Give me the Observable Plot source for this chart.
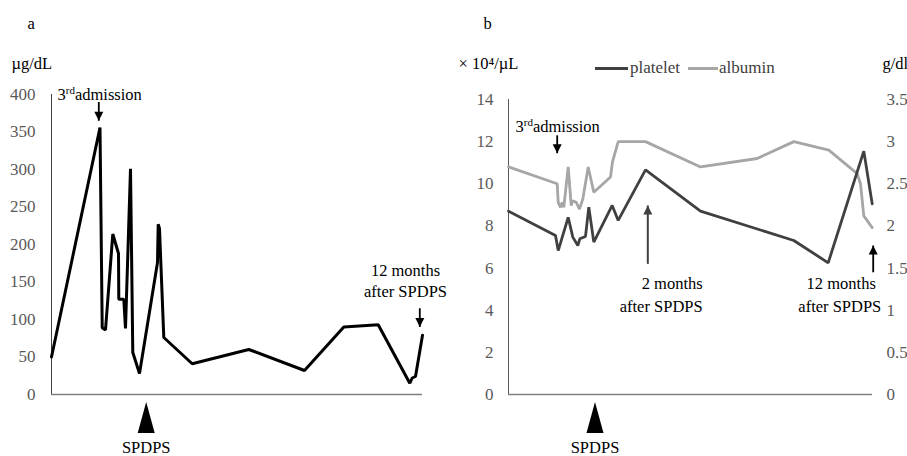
<!DOCTYPE html>
<html>
<head>
<meta charset="utf-8">
<script src="https://cdn.jsdelivr.net/npm/d3@7"></script>
<script src="https://cdn.jsdelivr.net/npm/@observablehq/plot@0.6"></script>
<style>
  html, body { margin: 0; padding: 0; background: #fff; }
  #root { position: relative; width: 907px; height: 456px; overflow: hidden; background: #fff;
          font-family: "Liberation Serif", "Tinos", "Times New Roman", "DejaVu Serif", serif; }
  .panel { position: absolute; top: 0; }
  .lg { position: absolute; font-size: 17px; color: #404040; line-height: 20px; white-space: nowrap; }
  .sw { position: absolute; height: 3px; }
</style>
</head>
<body>
<div id="root"></div>
<script>
// ---------- Panel a: serum value (µg/dL) over time ----------
const aTime  = [0, 48.5, 50.7, 54, 61.3, 67, 67.3, 72.3, 74, 79, 81.3, 88, 106, 106.7, 108, 112.3, 140.7, 197.3, 253, 292.3, 326.7, 358.3, 360.7, 364, 371];
const aValue = [50, 356, 89, 86, 214, 188, 127, 127, 88, 301, 56, 28, 176, 227, 221, 76, 41, 60, 32, 90, 93, 15, 22, 24, 79];
const aTicks = [0, 50, 100, 150, 200, 250, 300, 350, 400];

// ---------- Panel b: platelet (×10^4/µL) and albumin (g/dl) ----------
const plateletTime  = [0, 47, 49.7, 59.7, 62, 64.3, 69.3, 71.3, 77, 80.3, 85.3, 103.7, 109.7, 137, 192, 285.3, 319.7, 355.3, 363.7];
const plateletValue = [8.7, 7.55, 6.83, 8.41, 7.94, 7.47, 7.07, 7.39, 7.5, 8.89, 7.23, 8.97, 8.26, 10.66, 8.7, 7.31, 6.25, 11.55, 9.05];
const albuminTime   = [0, 48.7, 49.7, 52, 53.7, 55.3, 59.7, 62.7, 64.3, 67.7, 71, 74.3, 79.7, 85.3, 102, 104, 109.7, 137, 192, 248.7, 285.3, 320.3, 348.7, 352, 355.3, 363.7];
const albuminValue  = [2.7, 2.5, 2.28, 2.22, 2.28, 2.22, 2.7, 2.24, 2.3, 2.28, 2.2, 2.32, 2.7, 2.4, 2.58, 2.76, 3.0, 3.0, 2.7, 2.8, 3.0, 2.9, 2.62, 2.5, 2.12, 1.98];
const bLeftTicks  = [0, 2, 4, 6, 8, 10, 12, 14];
const bRightTicks = [0, 0.5, 1, 1.5, 2, 2.5, 3, 3.5];
const albuminRatio = 4; // right axis 0–3.5 aligned with left axis 0–14
const seriesNames = ["platelet", "albumin"];

// event times
const aSpdps = 94.7, bSpdps = 86.5;

const aData = aTime.map((t, i) => ({t, v: aValue[i]}));
const pData = plateletTime.map((t, i) => ({t, v: plateletValue[i]}));
const albData = albuminTime.map((t, i) => ({t, v: albuminValue[i] * albuminRatio}));

const FONT = '"Liberation Serif", "Tinos", "Times New Roman", "DejaVu Serif", serif';
const ANN = 16.5;
const headDown = {draw(c){ c.moveTo(0, 0); c.lineTo(-4.5, -9); c.lineTo(4.5, -9); c.closePath(); }};
const headUp   = {draw(c){ c.moveTo(0, 0); c.lineTo(-4.5, 9); c.lineTo(4.5, 9); c.closePath(); }};
const bigTri   = {draw(c){ c.moveTo(0, -15.5); c.lineTo(8.5, 15.5); c.lineTo(-8.5, 15.5); c.closePath(); }};

function arrow(x, yFrom, yTip, down, color, width) {
  return [
    Plot.link([0], {x1: () => x, x2: () => x, y1: () => yFrom, y2: () => yTip, stroke: color, strokeWidth: width}),
    Plot.dot([0], {x: () => x, y: () => yTip, symbol: down ? headDown : headUp, r: 1, fill: color, stroke: null})
  ];
}
const txt = {fill: "#000", fontSize: ANN, lineAnchor: "middle", fontFamily: FONT};

const panelA = Plot.plot({
  width: 453, height: 456,
  marginLeft: 51, marginRight: 31, marginTop: 94, marginBottom: 62,
  x: {domain: [0, 371], axis: null},
  y: {domain: [0, 400]},
  style: {fontFamily: FONT, fontSize: "17px", color: "#595959", background: "transparent", overflow: "visible"},
  marks: [
    Plot.axisY({ticks: aTicks, tickSize: 0, tickPadding: 16, label: null, fontFamily: FONT}),
    Plot.ruleX([0], {y1: 0, y2: 400, stroke: "#404040", strokeWidth: 1}),
    Plot.ruleY([0], {stroke: "#808080", strokeWidth: 1.5}),
    Plot.line(aData, {x: "t", y: "v", stroke: "#000", strokeWidth: 3, strokeLinejoin: "miter"}),
    ...arrow(47.3, 390, 365, true, "#000", 1.8),
    ...arrow(368.3, 115, 90, true, "#000", 1.8),
    Plot.text(["3rd admission"], {...txt, x: () => 6, y: () => 400, textAnchor: "start"}),
    Plot.text(["12 months", "after SPDPS"], {...txt, x: () => 354, y: (d, i) => i ? 136.4 : 164.4}),
    Plot.dot([aSpdps], {x: d => d, frameAnchor: "bottom", dy: 23, symbol: bigTri, r: 1, fill: "#000", stroke: null}),
    Plot.text(["SPDPS"], {...txt, x: () => aSpdps, frameAnchor: "bottom", dy: 53}),
    Plot.text(["µg/dL"], {...txt, frameAnchor: "top-left", dx: -40, dy: -31, textAnchor: "start"}),
    Plot.text(["a"], {...txt, frameAnchor: "top-left", dx: -24, dy: -71, textAnchor: "start"})
  ]
});

const panelB = Plot.plot({
  width: 454, height: 456,
  marginLeft: 55, marginRight: 35, marginTop: 99, marginBottom: 62,
  x: {domain: [0, 364], axis: null},
  y: {domain: [0, 14]},
  style: {fontFamily: FONT, fontSize: "17px", color: "#595959", background: "transparent", overflow: "visible"},
  marks: [
    Plot.axisY({ticks: bLeftTicks, tickSize: 0, tickPadding: 15, label: null, fontFamily: FONT}),
    Plot.axisY({anchor: "right", ticks: bRightTicks.map(v => v * albuminRatio), tickFormat: d => String(d / albuminRatio), tickSize: 0, tickPadding: 14, label: null, textAnchor: "start", fontFamily: FONT}),
    Plot.ruleX([0], {y1: 0, y2: 14, stroke: "#595959", strokeWidth: 1}),
    Plot.ruleY([0], {stroke: "#808080", strokeWidth: 1.5}),
    Plot.line(albData, {x: "t", y: "v", stroke: "#a6a6a6", strokeWidth: 2.8, strokeLinejoin: "miter"}),
    Plot.line(pData, {x: "t", y: "v", stroke: "#404040", strokeWidth: 2.8, strokeLinejoin: "miter"}),
    ...arrow(48.7, 12.3, 11.45, true, "#000", 1.8),
    ...arrow(139.3, 6.2, 8.97, false, "#404040", 2),
    ...arrow(364.7, 5.8, 7.07, false, "#000", 1.8),
    Plot.text(["3rd admission"], {...txt, x: () => 7, y: () => 12.72, textAnchor: "start"}),
    Plot.text(["2 months", "after SPDPS"], {...txt, x: (d, i) => i ? 152.7 : 163.7, y: (d, i) => i ? 4.18 : 5.25}),
    Plot.text(["12 months", "after SPDPS"], {...txt, x: (d, i) => i ? 331.3 : 332.7, y: (d, i) => i ? 4.18 : 5.25}),
    Plot.dot([bSpdps], {x: d => d, frameAnchor: "bottom", dy: 23, symbol: bigTri, r: 1, fill: "#000", stroke: null}),
    Plot.text(["SPDPS"], {...txt, x: () => bSpdps, frameAnchor: "bottom", dy: 53}),
    Plot.text(["× 10⁴/µL"], {...txt, frameAnchor: "top-left", dx: -50, dy: -36, textAnchor: "start"}),
    Plot.text(["g/dl"], {...txt, frameAnchor: "top-right", dx: 10, dy: -36, textAnchor: "start"}),
    Plot.text(["b"], {...txt, frameAnchor: "top-left", dx: -25, dy: -76, textAnchor: "start"})
  ]
});

// superscript "rd"
function fixSuperscript(svg) {
  svg.querySelectorAll("text").forEach(t => {
    if (t.textContent === "3rd admission") {
      t.textContent = "";
      const ns = "http://www.w3.org/2000/svg";
      const a = document.createElementNS(ns, "tspan"); a.textContent = "3";
      const b = document.createElementNS(ns, "tspan"); b.textContent = "rd"; b.setAttribute("font-size", "11px"); b.setAttribute("dy", "-6");
      const c = document.createElementNS(ns, "tspan"); c.textContent = "admission"; c.setAttribute("dy", "6");
      t.append(a, b, c);
    }
  });
}
fixSuperscript(panelA); fixSuperscript(panelB);

const root = document.getElementById("root");
panelA.classList.add("panel"); panelA.style.left = "0px";
panelB.classList.add("panel"); panelB.style.left = "453px";
root.append(panelA, panelB);

// legend (line swatches + names)
const swatch = [{x: 595, w: 33, c: "#404040", tx: 630}, {x: 688, w: 30, c: "#a6a6a6", tx: 719}];
seriesNames.forEach((name, i) => {
  const s = document.createElement("div");
  s.className = "sw"; s.style.left = swatch[i].x + "px"; s.style.top = "67px";
  s.style.width = swatch[i].w + "px"; s.style.background = swatch[i].c;
  const t = document.createElement("div");
  t.className = "lg"; t.style.left = swatch[i].tx + "px"; t.style.top = "58px";
  t.textContent = name;
  root.append(s, t);
});
</script>
</body>
</html>
